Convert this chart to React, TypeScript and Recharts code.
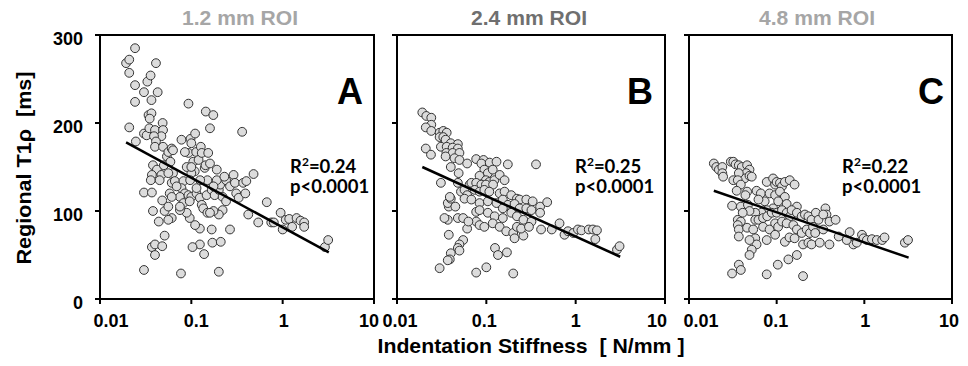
import React from 'react'
import { ScatterChart, Scatter, XAxis, YAxis, ReferenceArea } from 'recharts'

// axis values
const xTicks = [0.01, 0.1, 1, 10]
const xTickLabels = ['0.01', '0.1', '1', '10']
const yTicks = [0, 100, 200, 300]

// panel texts
const panelTitles = ['1.2 mm ROI', '2.4 mm ROI', '4.8 mm ROI']
const panelLetters = ['A', 'B', 'C']
const rSquared = ['0.24', '0.25', '0.22']
const pValue = 'p<0.0001'

// [stiffness N/mm, T1rho ms]
const pointsA: [number, number][] = [
  [0.0193, 268], [0.0209, 272], [0.0242, 285], [0.0209, 257], [0.0242, 243], [0.0242, 224], [0.0303, 235], [0.033, 247],
  [0.0358, 254], [0.041, 268], [0.0428, 235], [0.0366, 226], [0.0209, 195], [0.0247, 179], [0.0303, 188], [0.0324, 186],
  [0.034, 209], [0.0366, 211], [0.035, 205], [0.0347, 194], [0.04, 192], [0.0485, 200], [0.049, 192], [0.047, 185],
  [0.039, 185], [0.041, 179], [0.04, 173], [0.049, 173], [0.038, 152], [0.042, 147], [0.037, 141], [0.036, 135],
  [0.047, 141], [0.045, 135], [0.05, 152], [0.054, 162], [0.056, 167], [0.061, 171], [0.063, 169], [0.059, 156],
  [0.063, 143], [0.056, 143], [0.061, 132], [0.066, 134], [0.058, 120], [0.0303, 121], [0.037, 121], [0.048, 112],
  [0.051, 100], [0.056, 105], [0.061, 92], [0.056, 90], [0.038, 100], [0.044, 88], [0.051, 72], [0.037, 59],
  [0.04, 62], [0.04, 50], [0.048, 60], [0.0303, 33], [0.077, 29], [0.078, 181], [0.093, 222], [0.098, 182],
  [0.1, 177], [0.093, 166], [0.105, 156], [0.11, 188], [0.113, 167], [0.12, 158], [0.127, 173], [0.13, 166],
  [0.14, 149], [0.153, 166], [0.143, 152], [0.16, 194], [0.144, 213], [0.174, 209], [0.15, 135], [0.19, 147],
  [0.125, 135], [0.109, 145], [0.1, 143], [0.082, 134], [0.078, 126], [0.085, 120], [0.075, 116], [0.093, 118],
  [0.1, 116], [0.082, 109], [0.096, 111], [0.114, 120], [0.124, 115], [0.13, 107], [0.147, 118], [0.167, 124],
  [0.18, 118], [0.2, 124], [0.22, 116], [0.207, 130], [0.24, 135], [0.265, 128], [0.29, 141], [0.3, 132],
  [0.31, 120], [0.33, 115], [0.37, 132], [0.4, 134], [0.39, 120], [0.48, 142], [0.36, 190], [0.67, 110],
  [0.54, 87], [0.42, 96], [0.265, 79], [0.24, 111], [0.22, 101], [0.2, 96], [0.175, 100], [0.135, 103],
  [0.15, 98], [0.16, 98], [0.124, 80], [0.11, 84], [0.124, 62], [0.138, 51], [0.103, 59], [0.167, 79],
  [0.17, 64], [0.21, 65], [0.2, 31], [0.096, 92], [0.089, 98], [0.075, 101], [0.075, 105], [0.75, 87],
  [0.8, 87], [0.95, 98], [1.0, 79], [1.08, 90], [1.18, 91], [1.27, 82], [1.42, 92], [1.57, 89],
  [1.72, 87], [1.72, 82], [2.9, 59], [3.15, 67], [0.085, 167], [0.089, 150], [0.1, 150], [0.16, 154],
  [0.19, 135], [0.23, 139], [0.175, 128], [0.097, 135], [0.114, 126], [0.069, 128], [0.061, 116],
]

const pointsB: [number, number][] = [
  [0.0192, 212], [0.0213, 208], [0.0242, 206], [0.0242, 198], [0.021, 195], [0.0242, 191], [0.03, 189], [0.033, 191],
  [0.036, 189], [0.03, 184], [0.033, 184], [0.035, 181], [0.04, 177], [0.048, 176], [0.031, 173], [0.036, 173],
  [0.042, 172], [0.048, 171], [0.021, 171], [0.0357, 166], [0.042, 166], [0.05, 166], [0.024, 164], [0.035, 162],
  [0.044, 160], [0.05, 158], [0.04, 150], [0.061, 154], [0.049, 143], [0.031, 132], [0.048, 132], [0.052, 122],
  [0.057, 124], [0.061, 118], [0.065, 130], [0.068, 132], [0.057, 114], [0.077, 159], [0.093, 158], [0.088, 154],
  [0.109, 155], [0.13, 156], [0.174, 153], [0.36, 153], [0.095, 147], [0.104, 143], [0.118, 147], [0.084, 140],
  [0.099, 135], [0.108, 133], [0.123, 135], [0.141, 141], [0.16, 135], [0.077, 132], [0.088, 130], [0.099, 130],
  [0.119, 130], [0.074, 124], [0.084, 122], [0.095, 124], [0.108, 122], [0.141, 120], [0.16, 122], [0.19, 118],
  [0.22, 114], [0.236, 113], [0.28, 113], [0.33, 111], [0.4, 105], [0.48, 110], [0.068, 113], [0.084, 109],
  [0.104, 111], [0.13, 109], [0.153, 113], [0.174, 107], [0.207, 108], [0.236, 103], [0.28, 103], [0.32, 101],
  [0.077, 99], [0.084, 101], [0.104, 98], [0.124, 94], [0.153, 92], [0.19, 98], [0.22, 94], [0.26, 90],
  [0.32, 88], [0.4, 98], [0.077, 88], [0.084, 84], [0.095, 82], [0.118, 86], [0.141, 82], [0.167, 77],
  [0.2, 75], [0.207, 69], [0.26, 72], [0.22, 82], [0.245, 80], [0.3, 82], [0.41, 79], [0.54, 79],
  [0.66, 86], [0.75, 73], [0.82, 77], [0.94, 75], [1.06, 79], [1.16, 78], [1.4, 79], [1.56, 79],
  [1.73, 78], [1.66, 68], [2.9, 56], [3.1, 60], [0.038, 105], [0.037, 109], [0.04, 114], [0.039, 116],
  [0.045, 105], [0.037, 90], [0.048, 92], [0.055, 92], [0.038, 73], [0.061, 80], [0.055, 67], [0.05, 62],
  [0.048, 58], [0.05, 55], [0.04, 52], [0.039, 45], [0.037, 44], [0.03, 35], [0.077, 30], [0.1, 36],
  [0.2, 29], [0.125, 58], [0.135, 50], [0.17, 53], [0.063, 88], [0.034, 92], [0.153, 103],
]

const pointsC: [number, number][] = [
  [0.0192, 154], [0.0205, 150], [0.0219, 147], [0.024, 150], [0.024, 143], [0.0245, 139], [0.03, 156], [0.032, 156],
  [0.034, 153], [0.037, 152], [0.04, 150], [0.046, 152], [0.049, 147], [0.045, 143], [0.043, 137], [0.037, 143],
  [0.032, 135], [0.036, 135], [0.049, 140], [0.052, 139], [0.039, 130], [0.035, 123], [0.046, 122], [0.044, 118],
  [0.031, 106], [0.039, 105], [0.047, 107], [0.059, 123], [0.066, 120], [0.073, 111], [0.062, 113], [0.077, 133],
  [0.083, 120], [0.091, 137], [0.096, 130], [0.1, 133], [0.109, 132], [0.115, 128], [0.124, 133], [0.141, 135],
  [0.16, 130], [0.096, 118], [0.109, 122], [0.124, 116], [0.104, 111], [0.13, 108], [0.17, 105], [0.091, 103],
  [0.077, 101], [0.067, 98], [0.057, 98], [0.049, 100], [0.041, 98], [0.036, 90], [0.039, 88], [0.036, 84],
  [0.037, 79], [0.037, 71], [0.046, 81], [0.054, 79], [0.057, 90], [0.062, 90], [0.07, 92], [0.078, 94],
  [0.088, 98], [0.1, 98], [0.115, 101], [0.13, 98], [0.142, 94], [0.148, 101], [0.17, 98], [0.193, 94],
  [0.21, 96], [0.23, 94], [0.25, 90], [0.28, 98], [0.3, 90], [0.36, 103], [0.37, 96], [0.4, 88],
  [0.47, 90], [0.07, 82], [0.083, 79], [0.096, 86], [0.104, 82], [0.115, 88], [0.13, 86], [0.155, 84],
  [0.17, 79], [0.193, 75], [0.22, 79], [0.24, 75], [0.26, 82], [0.275, 75], [0.096, 73], [0.077, 67],
  [0.057, 69], [0.059, 62], [0.052, 56], [0.049, 50], [0.049, 67], [0.124, 65], [0.14, 70], [0.16, 69],
  [0.2, 62], [0.23, 64], [0.25, 62], [0.31, 64], [0.4, 62], [0.17, 50], [0.136, 45], [0.103, 39],
  [0.077, 28], [0.2, 26], [0.037, 39], [0.039, 33], [0.031, 29], [0.51, 71], [0.68, 76], [0.75, 62],
  [0.82, 64], [0.94, 73], [0.98, 69], [1.07, 67], [1.22, 68], [1.39, 67], [1.6, 67], [1.7, 70],
  [2.9, 64], [3.15, 67], [0.63, 67], [0.34, 79], [0.34, 96],
]

// regression line end points
const fitA: [number, number][] = [[0.0193, 178], [3.2, 53]]
const fitB: [number, number][] = [[0.0192, 150], [3.15, 48]]
const fitC: [number, number][] = [[0.0192, 123], [3.2, 47]]

const FONT = '"Liberation Sans", Arial, Helvetica, sans-serif'
const STAT_FONT = 'Lato, "Open Sans", sans-serif'

const panels = [
  { points: pointsA, fit: fitA, left: 0, width: 390, margin: { top: 35, right: 16, bottom: 37, left: 40 }, yWidth: 60, yLabels: true,
    shift: [11, 5, 1, -5], titleX: 240, titleColor: '#a6a6a6', letterX: 363, statX: 290 },
  { points: pointsB, fit: fitB, left: 380, width: 300, margin: { top: 35, right: 15, bottom: 37, left: 7 }, yWidth: 10, yLabels: false,
    shift: [3, -2, 0, -8], titleX: 529, titleColor: '#6f6f6f', letterX: 653, statX: 575 },
  { points: pointsC, fit: fitC, left: 670, width: 298, margin: { top: 35, right: 16, bottom: 37, left: 9 }, yWidth: 10, yLabels: false,
    shift: [12, -1, 1, -3], titleX: 817, titleColor: '#a6a6a6', letterX: 944, statX: 842 },
]

function XTick(props: any) {
  const { x, y, payload, shift } = props
  const i = xTicks.indexOf(payload.value)
  return (
    <text x={x + (shift[i] || 0)} y={y} dy={21} textAnchor="middle" fontFamily={FONT} fontWeight="bold" fontSize={18} fill="#000">
      {xTickLabels[i]}
    </text>
  )
}

function YTick(props: any) {
  const { x, y, payload, show } = props
  if (!show) return <g />
  return (
    <text x={x - 10} y={y} dy={10} textAnchor="end" fontFamily={FONT} fontWeight="bold" fontSize={18} fill="#000">
      {payload.value}
    </text>
  )
}

const dot = (p: any) => <circle cx={p.cx} cy={p.cy} r={4.4} fill="#dcdcdc" stroke="#333" strokeWidth={1} />

function Panel({ cfg }: { cfg: any }) {
  const data = cfg.points.map(([x, y]: number[]) => ({ x, y }))
  const fitData = cfg.fit.map(([x, y]: number[]) => ({ x, y }))
  return (
    <div style={{ position: 'absolute', left: cfg.left, top: 0 }}>
      <ScatterChart width={cfg.width} height={366} margin={cfg.margin}>
        <ReferenceArea x1={0.01} x2={10} y1={0} y2={300} fill="none" stroke="#000" strokeWidth={2} ifOverflow="visible" />
        <XAxis
          type="number"
          dataKey="x"
          scale="log"
          domain={[0.01, 10]}
          ticks={xTicks}
          interval={0}
          allowDataOverflow
          height={30}
          tickSize={5}
          axisLine={{ stroke: '#000', strokeWidth: 2 }}
          tickLine={{ stroke: '#000', strokeWidth: 2 }}
          tick={(p: any) => <XTick {...p} shift={cfg.shift} />}
        />
        <YAxis
          type="number"
          dataKey="y"
          domain={[0, 300]}
          ticks={yTicks}
          interval={0}
          width={cfg.yWidth}
          tickSize={5}
          axisLine={{ stroke: '#000', strokeWidth: 2 }}
          tickLine={{ stroke: '#000', strokeWidth: 2 }}
          tick={(p: any) => <YTick {...p} show={cfg.yLabels} />}
        />
        <Scatter data={data} shape={dot} isAnimationActive={false} legendType="none" />
        <Scatter data={fitData} line={{ stroke: '#000', strokeWidth: 2.5 }} shape={() => <g />} isAnimationActive={false} legendType="none" />
      </ScatterChart>
    </div>
  )
}

export default function App() {
  return (
    <div style={{ position: 'absolute', left: 0, top: 0, width: 968, height: 366, background: '#fff' }}>
      {panels.map((cfg, i) => <Panel key={i} cfg={cfg} />)}
      <svg width={968} height={366} style={{ position: 'absolute', left: 0, top: 0, pointerEvents: 'none' }}>
        {panels.map((cfg, i) => (
          <g key={i}>
            <text x={cfg.titleX} y={25} textAnchor="middle" fontFamily={FONT} fontWeight="bold" fontSize={20}
              fill={cfg.titleColor} textLength={116} lengthAdjust="spacingAndGlyphs">
              {panelTitles[i]}
            </text>
            <text x={cfg.letterX} y={104} textAnchor="end" fontFamily={FONT} fontWeight="bold" fontSize={36} fill="#000">
              {panelLetters[i]}
            </text>
            <text x={cfg.statX} y={173} fontFamily={STAT_FONT} fontWeight="bold" fontSize={18.5} fill="#000">
              R<tspan dy={-7} fontSize={12}>2</tspan><tspan dy={7} fontSize={18.5}>={rSquared[i]}</tspan>
            </text>
            <text x={cfg.statX} y={193} fontFamily={STAT_FONT} fontWeight="bold" fontSize={18.5} fill="#000">
              {pValue}
            </text>
          </g>
        ))}
        <text x={31} y={168} transform="rotate(-90, 31, 168)" textAnchor="middle" fontFamily={FONT} fontWeight="bold"
          fontSize={21} fill="#000" style={{ whiteSpace: 'pre' }} textLength={193} lengthAdjust="spacingAndGlyphs">
          {'Regional T1ρ  [ms]'}
        </text>
        <text x={531} y={353} textAnchor="middle" fontFamily={FONT} fontWeight="bold" fontSize={21} fill="#000"
          style={{ whiteSpace: 'pre' }} textLength={307} lengthAdjust="spacingAndGlyphs">
          {'Indentation Stiffness  [ N/mm ]'}
        </text>
      </svg>
    </div>
  )
}
